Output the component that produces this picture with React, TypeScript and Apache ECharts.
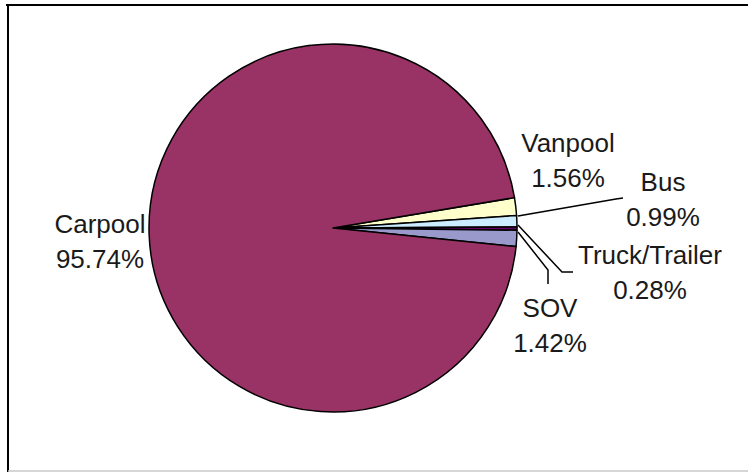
import React, { useEffect, useRef } from "react";
import * as echarts from "echarts";

const categories = ["Vanpool", "Bus", "Truck/Trailer", "SOV", "Carpool"];
const shares = [1.56, 0.99, 0.28, 1.42, 95.74];
const colors = ["#FFFFCC", "#CCECFF", "#660066", "#9999CC", "#993366"];

// label placement (text block centre) and leader lines, per category index
const labelPos: { x: number; y: number; line?: number[][] }[] = [
  { x: 568, y: 160 },
  { x: 663, y: 199, line: [[518, 216], [616, 199], [623, 198]] },
  { x: 650, y: 272, line: [[518, 225], [562, 272], [573, 272]] },
  { x: 550, y: 325, line: [[518, 232], [548, 270], [548, 284]] },
  { x: 100, y: 241 },
];

export default function App() {
  const ref = useRef<HTMLDivElement>(null);
  useEffect(() => {
    document.body.style.margin = "0";
    const chart = echarts.init(ref.current!, null, { renderer: "svg" });
    chart.setOption({
      animation: false,
      backgroundColor: "#ffffff",
      graphic: [
        { type: "line", shape: { x1: 6, y1: 5, x2: 748, y2: 5 }, style: { stroke: "#000", lineWidth: 2 } },
        { type: "line", shape: { x1: 8, y1: 4, x2: 8, y2: 472 }, style: { stroke: "#000", lineWidth: 2 } },
        { type: "line", shape: { x1: 8, y1: 471, x2: 748, y2: 471 }, style: { stroke: "#c8c8c8", lineWidth: 1.5 } },
      ],
      series: [
        {
          type: "pie",
          center: [333, 228],
          radius: [0, 184],
          startAngle: 9.5,
          clockwise: true,
          avoidLabelOverlap: false,
          itemStyle: { borderColor: "#000", borderWidth: 1.5 },
          label: {
            show: true,
            position: "outside",
            fontFamily: "Liberation Sans, Arial, sans-serif",
            fontSize: 26,
            lineHeight: 35,
            color: "#1a1a1a",
            align: "center",
            formatter: (p: any) => `${p.name}\n${Number(p.value).toFixed(2)}%`,
          },
          labelLine: { show: true, lineStyle: { color: "#000", width: 1.5 } },
          labelLayout: (params: any) => {
            const L = labelPos[params.dataIndex];
            const out: any = { x: L.x, y: L.y, align: "center", verticalAlign: "middle" };
            if (L.line) out.labelLinePoints = L.line;
            return out;
          },
          data: categories.map((name, i) => ({
            name,
            value: shares[i],
            itemStyle: { color: colors[i] },
            labelLine: { show: !!labelPos[i].line },
          })),
        },
      ],
    });
    return () => chart.dispose();
  }, []);
  return <div ref={ref} style={{ width: 748, height: 472 }} />;
}
